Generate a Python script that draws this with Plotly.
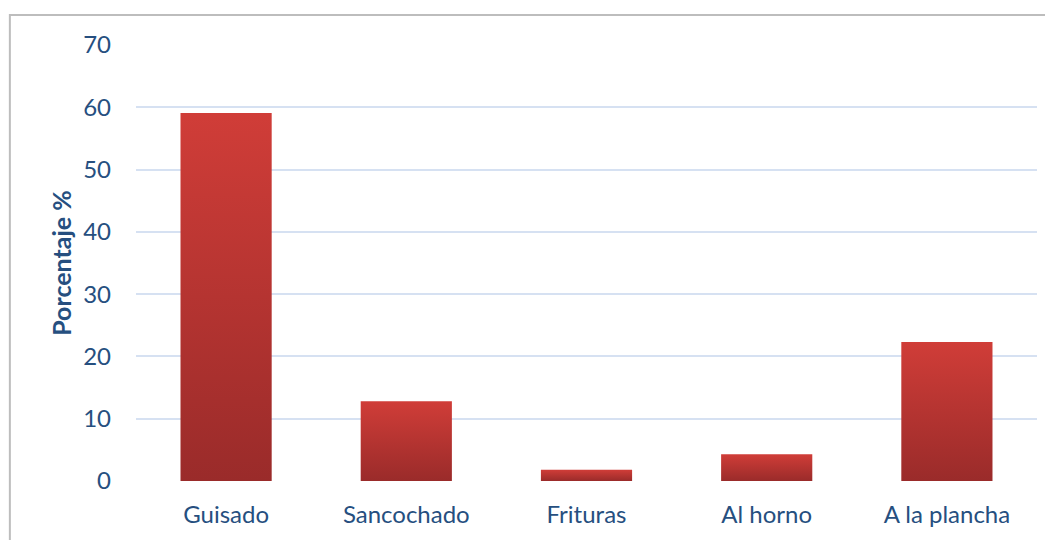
import plotly.graph_objects as go

categories = ["Guisado", "Sancochado", "Frituras", "Al horno", "A la plancha"]
porcentaje = [59.1, 12.8, 1.8, 4.3, 22.3]
y_ticks = [0, 10, 20, 30, 40, 50, 60, 70]

half = 0.253  # half bar width, in category units
text_color = "#264f7f"

fig = go.Figure()
for i, (cat, val) in enumerate(zip(categories, porcentaje)):
    fig.add_trace(go.Scatter(
        x=[i - half, i + half, i + half, i - half, i - half],
        y=[0, 0, val, val, 0],
        mode="lines",
        line=dict(width=0),
        fill="toself",
        fillgradient=dict(type="vertical",
                          colorscale=[[0, "#9a2b2a"], [1, "#d03d38"]]),
        name=cat,
        hoverinfo="skip",
        showlegend=False,
    ))

fig.update_layout(
    width=1045, height=532,
    margin=dict(l=128, r=16, t=37, b=59),
    paper_bgcolor="white", plot_bgcolor="white",
    font=dict(family="Lato", size=24, color=text_color),
    shapes=[dict(type="rect", xref="paper", yref="paper",
                 x0=-0.14, x1=1.2, y0=-0.3, y1=1.069,
                 line=dict(color="#bdbdbd", width=2), layer="below")],
)
fig.update_xaxes(
    range=[-0.5, 4.5], tickvals=list(range(len(categories))), ticktext=categories,
    showgrid=False, zeroline=False, showline=False, ticks="",
    ticklabelstandoff=17,
)
fig.update_yaxes(
    range=[0, 70], tickvals=y_ticks, showgrid=True, gridcolor="#d6e1f2", gridwidth=2,
    zeroline=False, showline=False, ticks="", ticklabelstandoff=24,
    title=dict(text="<b>Porcentaje %</b>", font=dict(size=25, color=text_color), standoff=4),
)

fig.write_html("out.html")
